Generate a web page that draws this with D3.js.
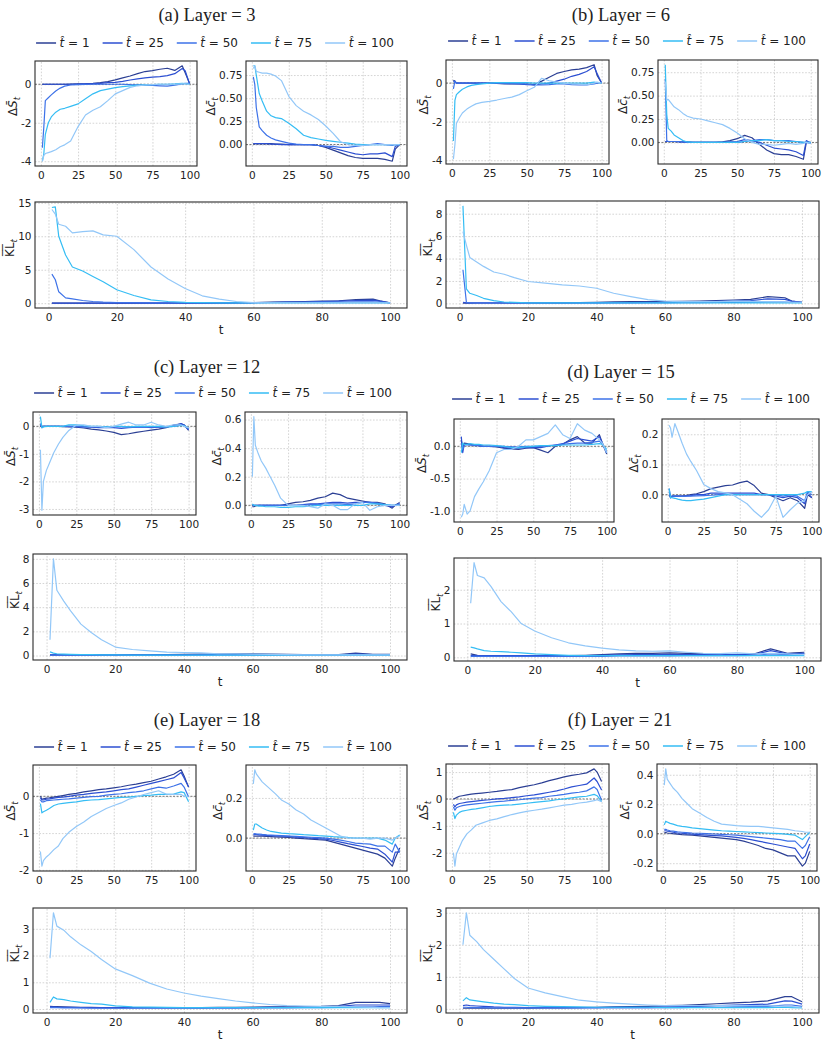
<!DOCTYPE html>
<html>
<head>
<meta charset="utf-8">
<script src="https://cdn.jsdelivr.net/npm/d3@7"></script>
<style>
  body { margin: 0; background: #fff; }
  svg text { font-family: "DejaVu Sans", sans-serif; fill: #222; }
</style>
</head>
<body>
<div id="chart"></div>
<script>
const tGrid = [1, 2, 3, 5, 7, 10, 13, 16, 20, 25, 30, 35, 40, 45, 50, 55, 60, 65, 70, 75, 80, 85, 90, 95, 97, 100];

const seriesNames = ["1", "25", "50", "75", "100"];
const seriesColors = ["#2b3f94", "#2c4fd2", "#3d72e8", "#35bdf4", "#92c7f8"];

const xTicksSmall = ["0", "25", "50", "75", "100"];
const xTicksWide = ["0", "20", "40", "60", "80", "100"];

// ---------- Layer 3 ----------
const layer3_dS = [
  [0, 0, 0, 0, 0, 0, 0, 0, 0.01, 0.02, 0.03, 0.05, 0.08, 0.14, 0.23, 0.33, 0.43, 0.55, 0.66, 0.71, 0.78, 0.83, 0.72, 0.96, 0.6, 0.03],
  [0, 0, 0, 0, 0, 0, 0, 0, 0, 0.01, 0.02, 0.03, 0.05, 0.08, 0.1, 0.15, 0.22, 0.28, 0.33, 0.37, 0.4, 0.45, 0.55, 0.82, 0.7, 0.02],
  [-3.3, -2.2, -0.85, -0.7, -0.55, -0.35, -0.2, -0.1, -0.04, -0.02, -0.01, 0, 0, 0, 0, 0, -0.02, -0.03, -0.05, -0.06, -0.08, -0.1, -0.05, 0.02, 0.05, 0.05],
  [-4.0, -3.6, -2.6, -2.0, -1.7, -1.45, -1.3, -1.25, -1.15, -1.02, -0.75, -0.5, -0.33, -0.25, -0.18, -0.12, -0.08, -0.05, -0.03, -0.02, 0, 0, 0.02, 0.05, 0.03, 0],
  [-4.0, -3.7, -3.6, -3.55, -3.5, -3.4, -3.25, -3.15, -2.95, -2.2, -1.6, -1.35, -1.17, -0.85, -0.5, -0.33, -0.16, -0.08, -0.04, -0.02, 0, 0, 0, 0.02, 0.02, 0]
];
const layer3_dc = [
  [0.01, 0.01, 0.01, 0.01, 0.01, 0.01, 0.01, 0.005, 0.005, 0, 0, 0, 0, -0.01, -0.03, -0.06, -0.09, -0.12, -0.14, -0.15, -0.15, -0.15, -0.16, -0.18, -0.05, 0],
  [0.01, 0.01, 0.01, 0.01, 0.01, 0.01, 0.005, 0.005, 0, 0, 0, 0, 0, -0.01, -0.02, -0.04, -0.06, -0.08, -0.1, -0.11, -0.1, -0.1, -0.09, -0.13, -0.02, 0],
  [0.73, 0.65, 0.4, 0.19, 0.15, 0.1, 0.07, 0.05, 0.035, 0.015, 0.005, 0, 0, -0.01, -0.02, -0.02, -0.03, -0.03, -0.02, -0.01, 0, 0.01, 0, -0.01, 0, 0],
  [0.85, 0.85, 0.75, 0.55, 0.47, 0.36, 0.31, 0.29, 0.28, 0.23, 0.17, 0.1, 0.075, 0.06, 0.045, 0.035, 0.025, 0.015, 0.005, 0, 0, 0, 0, 0, 0, 0],
  [0.82, 0.85, 0.79, 0.78, 0.77, 0.77, 0.76, 0.74, 0.69, 0.52, 0.42, 0.36, 0.32, 0.27, 0.2, 0.12, 0.03, 0, -0.01, -0.01, 0, 0, 0, 0, 0, 0]
];
const layer3_kl = [
  [0, 0, 0, 0, 0, 0, 0, 0, 0, 0, 0, 0, 0, 0, 0.02, 0.05, 0.1, 0.15, 0.2, 0.25, 0.3, 0.35, 0.55, 0.6, 0.35, 0.05],
  [0, 0, 0, 0, 0, 0, 0, 0, 0, 0, 0, 0, 0, 0, 0.01, 0.03, 0.06, 0.1, 0.15, 0.18, 0.25, 0.3, 0.4, 0.45, 0.3, 0.05],
  [4.35, 3.5, 1.7, 0.8, 0.65, 0.4, 0.25, 0.15, 0.1, 0.07, 0.05, 0.04, 0.04, 0.04, 0.05, 0.06, 0.08, 0.1, 0.12, 0.12, 0.15, 0.15, 0.2, 0.2, 0.15, 0.05],
  [14.3, 14.4, 10, 7.2, 5.4, 4.8, 4.0, 3.2, 2.0, 1.15, 0.5, 0.25, 0.12, 0.07, 0.05, 0.04, 0.04, 0.04, 0.04, 0.04, 0.04, 0.04, 0.05, 0.05, 0.05, 0.05],
  [14.0, 13.3, 11.8, 11.5, 10.5, 10.7, 10.8, 10.2, 10.0, 8.0, 5.4, 3.6, 2.2, 1.1, 0.6, 0.25, 0.08, 0.05, 0.05, 0.05, 0.05, 0.05, 0.05, 0.05, 0.05, 0.05]
];
const layer3_dSTicks = ["-4", "-2", "0"];
const layer3_dcTicks = ["0.00", "0.25", "0.50", "0.75"];
const layer3_klTicks = ["0", "5", "10", "15"];

// ---------- Layer 6 ----------
const layer6_dS = [
  [0.15, 0.1, 0, 0, 0, 0, 0, 0, 0, 0, -0.02, -0.05, -0.05, -0.05, -0.05, -0.08, 0.1, 0.3, 0.5, 0.6, 0.68, 0.72, 0.8, 0.95, 0.4, 0],
  [0.1, 0.05, 0, 0, 0, 0, 0, 0, 0, 0, 0, -0.02, -0.03, -0.05, -0.08, -0.1, -0.05, 0, 0.1, 0.2, 0.35, 0.45, 0.6, 0.85, 0.5, 0],
  [-0.3, 0.1, 0, 0, 0, 0, 0, 0, 0, 0, 0, 0, 0, -0.02, -0.05, -0.1, -0.1, -0.08, -0.05, -0.05, -0.08, -0.1, -0.1, -0.05, 0, 0.02],
  [-3.0, -0.9, -0.6, -0.45, -0.32, -0.2, -0.12, -0.08, -0.04, 0, 0.02, 0.02, 0.02, 0.02, 0.02, 0, 0, 0, 0, 0, 0, 0, 0, 0.05, 0.03, 0],
  [-3.95, -3.2, -2.1, -1.8, -1.55, -1.35, -1.2, -1.08, -1.0, -0.95, -0.88, -0.8, -0.73, -0.6, -0.4, -0.22, 0.25, 0.12, 0.05, 0, -0.05, -0.05, -0.1, 0, 0.05, 0]
];
const layer6_dc = [
  [0.01, 0.01, 0.01, 0.01, 0.01, 0.01, 0.005, 0.005, 0, 0, 0, 0, 0.005, 0.02, 0.04, 0.075, 0.05, -0.02, -0.08, -0.12, -0.13, -0.13, -0.15, -0.18, 0, 0],
  [0.01, 0.01, 0.01, 0.01, 0.01, 0.005, 0.005, 0, 0, 0, 0, 0, 0, 0.005, 0.01, 0.03, 0.02, 0, -0.03, -0.06, -0.07, -0.08, -0.1, -0.14, 0.02, -0.01],
  [0.68, 0.02, 0.01, 0.01, 0.01, 0.01, 0.005, 0, 0, 0, 0, 0, 0, 0, 0, 0.01, 0.02, 0.03, 0.03, 0.02, 0.02, 0.02, 0.01, 0, 0, -0.01],
  [0.83, 0.3, 0.15, 0.12, 0.08, 0.05, 0.02, 0.005, 0, 0, 0, 0, 0, 0, 0, 0.01, 0.02, 0.02, 0.03, 0.02, 0.02, 0.01, 0.01, 0, 0, 0],
  [0.65, 0.45, 0.46, 0.42, 0.38, 0.35, 0.31, 0.28, 0.26, 0.25, 0.23, 0.21, 0.19, 0.15, 0.1, 0.04, 0, -0.02, -0.02, -0.03, -0.02, -0.01, -0.02, -0.01, 0, -0.01]
];
const layer6_kl = [
  [0.02, 0.02, 0.02, 0.03, 0.03, 0.03, 0.03, 0.03, 0.03, 0.03, 0.05, 0.07, 0.1, 0.13, 0.15, 0.15, 0.15, 0.18, 0.2, 0.25, 0.3, 0.35, 0.6, 0.5, 0.2, 0.1],
  [0.1, 0.05, 0.03, 0.03, 0.03, 0.03, 0.03, 0.03, 0.03, 0.03, 0.03, 0.04, 0.05, 0.06, 0.07, 0.08, 0.1, 0.12, 0.15, 0.17, 0.2, 0.25, 0.4, 0.35, 0.2, 0.1],
  [3.0, 0.1, 0.05, 0.05, 0.05, 0.05, 0.05, 0.05, 0.05, 0.05, 0.05, 0.05, 0.05, 0.05, 0.05, 0.05, 0.05, 0.06, 0.07, 0.08, 0.08, 0.1, 0.12, 0.12, 0.1, 0.1],
  [8.7, 1.3, 0.9, 0.7, 0.45, 0.25, 0.12, 0.08, 0.05, 0.04, 0.04, 0.04, 0.04, 0.04, 0.04, 0.04, 0.04, 0.04, 0.04, 0.04, 0.04, 0.04, 0.05, 0.05, 0.05, 0.05],
  [6.4, 5.2, 4.1, 3.7, 3.3, 2.8, 2.6, 2.3, 1.95, 1.8, 1.65, 1.55, 1.35, 0.9, 0.6, 0.33, 0.2, 0.15, 0.15, 0.15, 0.2, 0.18, 0.15, 0.12, 0.1, 0.1]
];
const layer6_dSTicks = ["-4", "-2", "0"];
const layer6_dcTicks = ["0.00", "0.25", "0.50", "0.75"];
const layer6_klTicks = ["0", "2", "4", "6", "8"];

// ---------- Layer 12 ----------
const layer12_dS = [
  [0, 0, 0, 0, 0, 0, 0, -0.01, -0.02, -0.03, -0.06, -0.1, -0.13, -0.17, -0.22, -0.3, -0.27, -0.22, -0.18, -0.14, -0.1, -0.05, 0.05, 0.08, 0.05, -0.15],
  [0.05, 0, 0, 0, 0, 0, 0, 0, 0, -0.01, -0.02, -0.03, -0.05, -0.05, -0.05, -0.08, -0.05, -0.03, -0.02, -0.05, -0.03, -0.02, 0.02, 0.1, 0.05, -0.12],
  [0.1, -0.05, 0, 0, 0, 0, 0, 0, 0, 0, -0.02, -0.02, -0.02, -0.02, -0.02, -0.02, -0.03, -0.02, -0.03, -0.02, -0.03, -0.02, 0, 0.05, 0.03, -0.1],
  [0.35, -0.05, -0.02, 0, 0, 0, 0, 0, 0.05, 0.05, 0.02, 0, 0, -0.02, 0, 0, -0.02, 0, 0, 0, 0, -0.02, 0, 0.03, 0.02, -0.05],
  [-0.85, -3.05, -2.0, -1.6, -1.34, -0.95, -0.65, -0.4, -0.15, 0.05, 0.05, 0, 0, -0.05, 0, 0.08, 0.15, 0.05, 0.05, 0.15, 0.05, 0, 0.05, 0.05, 0, -0.05]
];
const layer12_dc = [
  [-0.01, -0.01, -0.005, 0, 0, 0, 0, 0, 0, 0.01, 0.02, 0.025, 0.035, 0.05, 0.06, 0.085, 0.075, 0.05, 0.04, 0.03, 0.02, 0.02, 0.01, -0.02, 0, 0.02],
  [-0.005, 0, 0, 0, 0, 0, 0, 0, 0, 0, 0, 0.005, 0.01, 0.01, 0.015, 0.02, 0.02, 0.015, 0.02, 0.02, 0.02, 0.01, 0, -0.01, 0, 0.01],
  [0.005, 0, 0, 0, 0, 0, 0, 0, 0, 0, 0, 0, 0.005, 0.005, 0.01, 0.01, 0.01, 0.005, 0.01, 0.02, 0.02, 0.015, 0.005, 0, 0, 0.01],
  [0.01, 0, 0, -0.005, -0.005, -0.01, -0.01, -0.01, -0.015, -0.015, -0.01, -0.01, -0.005, 0, 0, 0, 0, 0, 0, 0, 0.01, 0.01, 0.005, 0, 0, 0],
  [0.2, 0.62, 0.42, 0.36, 0.31, 0.26, 0.2, 0.14, 0.05, 0, 0, 0, -0.01, -0.02, 0.01, 0, -0.03, -0.03, 0.01, 0.02, -0.035, -0.01, 0, 0, 0, 0]
];
const layer12_kl = [
  [0.05, 0.05, 0.05, 0.05, 0.05, 0.05, 0.05, 0.05, 0.05, 0.05, 0.06, 0.08, 0.1, 0.12, 0.12, 0.15, 0.15, 0.12, 0.1, 0.08, 0.08, 0.08, 0.2, 0.1, 0.1, 0.1],
  [0.05, 0.05, 0.05, 0.05, 0.05, 0.05, 0.05, 0.05, 0.05, 0.05, 0.05, 0.05, 0.06, 0.07, 0.08, 0.08, 0.08, 0.08, 0.07, 0.06, 0.06, 0.06, 0.12, 0.08, 0.08, 0.08],
  [0.03, 0.03, 0.03, 0.03, 0.03, 0.03, 0.03, 0.03, 0.03, 0.03, 0.03, 0.03, 0.04, 0.04, 0.05, 0.05, 0.05, 0.05, 0.05, 0.05, 0.05, 0.05, 0.08, 0.06, 0.06, 0.06],
  [0.3, 0.2, 0.15, 0.12, 0.1, 0.08, 0.07, 0.06, 0.05, 0.04, 0.03, 0.03, 0.03, 0.03, 0.03, 0.03, 0.03, 0.03, 0.03, 0.03, 0.03, 0.03, 0.03, 0.03, 0.03, 0.03],
  [1.3, 8.0, 5.4, 4.5, 3.7, 2.6, 1.9, 1.3, 0.7, 0.5, 0.38, 0.28, 0.25, 0.22, 0.15, 0.15, 0.12, 0.1, 0.08, 0.06, 0.05, 0.05, 0.05, 0.05, 0.05, 0.05]
];
const layer12_dSTicks = ["-3", "-2", "-1", "0"];
const layer12_dcTicks = ["0.0", "0.2", "0.4", "0.6"];
const layer12_klTicks = ["0", "2", "4", "6", "8"];

// ---------- Layer 15 ----------
const layer15_dS = [
  [0.1, -0.05, 0.05, 0.04, 0.03, 0.02, 0.01, 0, 0, -0.01, -0.03, -0.04, -0.05, -0.03, -0.02, -0.06, -0.1, 0, 0.03, 0.1, 0.15, 0.05, 0.05, 0.18, 0.05, -0.12],
  [0.15, -0.1, 0.03, 0.03, 0.02, 0.02, 0.01, 0, 0, 0, -0.02, -0.03, -0.03, -0.02, -0.02, -0.02, 0, 0.02, 0.04, 0.08, 0.12, 0.1, 0.08, 0.15, 0.05, -0.1],
  [0.05, -0.05, 0.02, 0.02, 0.02, 0.01, 0.01, 0, 0, 0, 0, -0.01, -0.01, 0, 0, 0, 0.01, 0.02, 0.03, 0.04, 0.05, 0.05, 0.06, 0.08, 0.04, -0.1],
  [-0.1, 0.05, 0.03, 0.03, 0.04, 0.03, 0.03, 0.02, 0.02, 0.01, 0, -0.02, -0.02, -0.01, 0, 0.01, 0.01, 0.01, 0.02, 0.02, 0.02, 0.02, 0.03, 0.04, 0.03, -0.05],
  [-1.1, -1.05, -0.9, -1.05, -1.0, -0.78, -0.66, -0.55, -0.38, -0.1, -0.05, -0.05, 0, 0.1, 0.1, 0.15, 0.2, 0.33, 0.18, 0.12, 0.35, 0.25, 0.2, 0.1, 0.05, -0.1]
];
const layer15_dc = [
  [0, -0.01, -0.005, -0.005, -0.005, -0.005, -0.003, 0, 0.003, 0.01, 0.02, 0.025, 0.03, 0.032, 0.04, 0.045, 0.03, 0.005, 0, -0.01, -0.02, -0.01, -0.02, -0.045, 0, -0.01],
  [0.02, -0.01, -0.005, -0.005, -0.005, -0.005, -0.004, -0.003, 0, 0, 0.005, 0.005, 0.005, 0.005, 0.005, 0.005, 0.005, 0, 0, -0.005, -0.01, -0.005, -0.01, -0.03, 0.005, -0.01],
  [0.01, -0.01, -0.005, -0.005, -0.005, -0.006, -0.005, -0.005, -0.004, -0.003, -0.002, 0, 0, 0, 0, 0, 0, 0, 0, 0, -0.005, 0, -0.005, -0.02, 0.01, 0],
  [0.02, -0.01, -0.01, -0.012, -0.015, -0.018, -0.02, -0.02, -0.017, -0.015, -0.01, -0.005, 0, 0, 0, 0, 0, 0, 0, 0, 0, 0, 0, 0.005, 0.01, 0.01],
  [0.23, 0.22, 0.19, 0.235, 0.21, 0.17, 0.135, 0.11, 0.08, 0.034, 0.02, 0.01, 0.006, 0, -0.015, -0.03, -0.055, -0.075, -0.05, -0.005, -0.075, -0.05, -0.028, -0.02, 0, 0.01]
];
const layer15_kl = [
  [0.1, 0.08, 0.06, 0.05, 0.05, 0.05, 0.05, 0.05, 0.05, 0.05, 0.05, 0.06, 0.08, 0.1, 0.12, 0.12, 0.13, 0.12, 0.1, 0.08, 0.08, 0.1, 0.25, 0.12, 0.13, 0.15],
  [0.05, 0.05, 0.05, 0.05, 0.05, 0.05, 0.05, 0.05, 0.05, 0.05, 0.05, 0.05, 0.06, 0.07, 0.08, 0.08, 0.08, 0.08, 0.08, 0.08, 0.08, 0.08, 0.2, 0.1, 0.1, 0.12],
  [0.03, 0.03, 0.03, 0.03, 0.03, 0.03, 0.03, 0.03, 0.03, 0.03, 0.03, 0.03, 0.03, 0.04, 0.04, 0.04, 0.04, 0.05, 0.05, 0.05, 0.05, 0.06, 0.1, 0.08, 0.08, 0.1],
  [0.3, 0.28, 0.25, 0.2, 0.18, 0.17, 0.15, 0.13, 0.1, 0.08, 0.06, 0.05, 0.05, 0.05, 0.05, 0.05, 0.05, 0.05, 0.05, 0.05, 0.05, 0.05, 0.05, 0.05, 0.05, 0.05],
  [1.6, 2.8, 2.42, 2.35, 2.1, 1.65, 1.35, 1.0, 0.78, 0.58, 0.43, 0.34, 0.27, 0.22, 0.19, 0.18, 0.19, 0.15, 0.12, 0.11, 0.13, 0.1, 0.12, 0.1, 0.09, 0.08]
];
const layer15_dSTicks = ["-1.0", "-0.5", "0.0"];
const layer15_dcTicks = ["0.0", "0.1", "0.2"];
const layer15_klTicks = ["0", "1", "2"];

// ---------- Layer 18 ----------
const layer18_dS = [
  [0, -0.08, -0.07, -0.05, -0.04, -0.02, 0, 0.02, 0.05, 0.08, 0.12, 0.15, 0.18, 0.2, 0.23, 0.26, 0.3, 0.33, 0.37, 0.41, 0.47, 0.53, 0.6, 0.72, 0.55, 0.25],
  [-0.05, -0.1, -0.1, -0.08, -0.07, -0.05, -0.03, -0.02, 0, 0.03, 0.05, 0.08, 0.1, 0.12, 0.15, 0.18, 0.2, 0.25, 0.3, 0.35, 0.4, 0.45, 0.5, 0.65, 0.5, 0.25],
  [-0.1, -0.15, -0.15, -0.12, -0.11, -0.1, -0.09, -0.08, -0.07, -0.05, -0.03, -0.01, 0, 0.03, 0.05, 0.07, 0.1, 0.12, 0.15, 0.2, 0.25, 0.22, 0.28, 0.35, 0.25, -0.02],
  [-0.2, -0.45, -0.42, -0.38, -0.33, -0.25, -0.21, -0.19, -0.17, -0.15, -0.12, -0.1, -0.09, -0.07, -0.05, -0.03, -0.02, 0, 0.02, 0.03, 0.05, 0.05, 0.06, 0.12, 0.1, -0.15],
  [-1.5, -1.9, -1.75, -1.65, -1.58, -1.45, -1.35, -1.15, -0.98, -0.82, -0.7, -0.55, -0.44, -0.33, -0.25, -0.18, -0.08, -0.02, 0.05, 0.1, 0.15, 0.06, 0.05, 0.05, 0, 0]
];
const layer18_dc = [
  [0.01, 0.01, 0.01, 0.01, 0.01, 0.008, 0.007, 0.006, 0.005, 0.003, 0, -0.003, -0.005, -0.008, -0.01, -0.02, -0.03, -0.04, -0.05, -0.06, -0.07, -0.08, -0.1, -0.14, -0.1, -0.05],
  [0.015, 0.018, 0.018, 0.016, 0.015, 0.013, 0.012, 0.011, 0.01, 0.008, 0.005, 0.003, 0, -0.003, -0.005, -0.012, -0.02, -0.028, -0.035, -0.042, -0.05, -0.055, -0.08, -0.12, -0.07, -0.07],
  [0.02, 0.022, 0.02, 0.02, 0.018, 0.016, 0.015, 0.014, 0.012, 0.01, 0.008, 0.006, 0.004, 0.002, 0, -0.005, -0.01, -0.017, -0.025, -0.028, -0.03, -0.04, -0.04, -0.07, -0.03, -0.07],
  [0.04, 0.07, 0.07, 0.06, 0.05, 0.04, 0.033, 0.03, 0.025, 0.022, 0.02, 0.017, 0.015, 0.012, 0.01, 0.007, 0.005, 0.003, 0, 0, 0, 0, -0.01, -0.03, 0, 0.015],
  [0.27, 0.34, 0.32, 0.3, 0.28, 0.26, 0.24, 0.22, 0.19, 0.17, 0.14, 0.12, 0.09, 0.07, 0.05, 0.03, 0.01, 0, 0, 0, -0.005, 0, 0, -0.01, 0, 0.01]
];
const layer18_kl = [
  [0.1, 0.09, 0.09, 0.08, 0.07, 0.06, 0.06, 0.05, 0.05, 0.05, 0.05, 0.05, 0.05, 0.05, 0.06, 0.06, 0.07, 0.08, 0.08, 0.09, 0.1, 0.13, 0.25, 0.25, 0.25, 0.2],
  [0.08, 0.08, 0.07, 0.06, 0.06, 0.05, 0.05, 0.05, 0.05, 0.05, 0.05, 0.05, 0.05, 0.05, 0.05, 0.05, 0.05, 0.06, 0.06, 0.07, 0.08, 0.1, 0.15, 0.15, 0.15, 0.15],
  [0.05, 0.05, 0.05, 0.04, 0.04, 0.04, 0.03, 0.03, 0.03, 0.03, 0.03, 0.03, 0.03, 0.03, 0.03, 0.03, 0.04, 0.04, 0.04, 0.05, 0.05, 0.06, 0.08, 0.08, 0.09, 0.1],
  [0.25, 0.45, 0.38, 0.35, 0.3, 0.25, 0.2, 0.18, 0.12, 0.08, 0.07, 0.06, 0.05, 0.05, 0.05, 0.05, 0.05, 0.05, 0.05, 0.05, 0.05, 0.05, 0.05, 0.05, 0.05, 0.05],
  [1.9, 3.6, 3.1, 2.95, 2.7, 2.4, 2.15, 1.85, 1.5, 1.25, 0.97, 0.75, 0.6, 0.48, 0.39, 0.3, 0.23, 0.17, 0.13, 0.11, 0.1, 0.1, 0.08, 0.06, 0.05, 0.05]
];
const layer18_dSTicks = ["-2", "-1", "0"];
const layer18_dcTicks = ["0.0", "0.2"];
const layer18_klTicks = ["0", "1", "2", "3"];

// ---------- Layer 21 ----------
const layer21_dS = [
  [0, 0.02, 0.05, 0.1, 0.12, 0.15, 0.18, 0.2, 0.22, 0.25, 0.28, 0.32, 0.35, 0.42, 0.48, 0.53, 0.6, 0.68, 0.75, 0.82, 0.88, 0.92, 0.97, 1.12, 1.0, 0.65],
  [-0.2, -0.3, -0.22, -0.17, -0.15, -0.12, -0.1, -0.08, -0.05, -0.03, 0, 0.02, 0.05, 0.08, 0.12, 0.15, 0.2, 0.25, 0.3, 0.37, 0.45, 0.5, 0.55, 0.78, 0.65, 0.33],
  [-0.3, -0.42, -0.33, -0.28, -0.25, -0.22, -0.2, -0.18, -0.16, -0.13, -0.1, -0.08, -0.05, -0.03, 0, 0.03, 0.05, 0.1, 0.13, 0.17, 0.22, 0.25, 0.3, 0.45, 0.35, -0.05],
  [-0.5, -0.73, -0.6, -0.5, -0.45, -0.42, -0.39, -0.37, -0.33, -0.28, -0.25, -0.23, -0.22, -0.19, -0.16, -0.13, -0.1, -0.07, -0.03, 0, 0.04, 0.08, 0.1, 0.17, 0.12, -0.1],
  [-2.0, -2.5, -2.05, -1.8, -1.55, -1.3, -1.15, -0.98, -0.9, -0.8, -0.74, -0.66, -0.58, -0.52, -0.46, -0.42, -0.38, -0.33, -0.28, -0.23, -0.2, -0.15, -0.12, -0.06, -0.03, -0.1]
];
const layer21_dc = [
  [0.01, 0.008, 0.005, 0.003, 0, -0.003, -0.006, -0.008, -0.01, -0.015, -0.02, -0.025, -0.03, -0.035, -0.04, -0.05, -0.065, -0.08, -0.1, -0.11, -0.13, -0.15, -0.15, -0.22, -0.2, -0.12],
  [0.02, 0.02, 0.018, 0.015, 0.01, 0.005, 0.003, 0, -0.003, -0.006, -0.01, -0.013, -0.015, -0.02, -0.025, -0.032, -0.04, -0.05, -0.06, -0.07, -0.08, -0.09, -0.1, -0.17, -0.15, -0.07],
  [0.03, 0.03, 0.025, 0.02, 0.017, 0.012, 0.01, 0.008, 0.005, 0.003, 0, -0.002, -0.005, -0.007, -0.01, -0.015, -0.02, -0.025, -0.03, -0.035, -0.04, -0.05, -0.05, -0.1, -0.08, -0.02],
  [0.06, 0.085, 0.08, 0.07, 0.065, 0.055, 0.05, 0.047, 0.04, 0.035, 0.03, 0.025, 0.02, 0.018, 0.015, 0.012, 0.01, 0.007, 0.005, 0.002, 0, -0.005, -0.01, -0.04, -0.02, 0.01],
  [0.33, 0.44, 0.37, 0.34, 0.31, 0.28, 0.24, 0.21, 0.17, 0.14, 0.11, 0.085, 0.065, 0.06, 0.055, 0.052, 0.05, 0.05, 0.045, 0.04, 0.035, 0.03, 0.02, 0.015, 0.01, 0.01]
];
const layer21_kl = [
  [0.02, 0.02, 0.02, 0.02, 0.02, 0.02, 0.02, 0.02, 0.02, 0.03, 0.03, 0.04, 0.05, 0.06, 0.07, 0.08, 0.1, 0.11, 0.13, 0.16, 0.19, 0.21, 0.25, 0.38, 0.38, 0.22],
  [0.1, 0.12, 0.1, 0.09, 0.08, 0.06, 0.05, 0.05, 0.04, 0.04, 0.04, 0.04, 0.04, 0.05, 0.05, 0.05, 0.06, 0.07, 0.08, 0.1, 0.12, 0.13, 0.15, 0.25, 0.24, 0.15],
  [0.05, 0.05, 0.04, 0.04, 0.04, 0.03, 0.03, 0.03, 0.03, 0.03, 0.03, 0.03, 0.03, 0.03, 0.03, 0.03, 0.04, 0.04, 0.05, 0.05, 0.06, 0.07, 0.08, 0.12, 0.12, 0.08],
  [0.25, 0.35, 0.28, 0.25, 0.22, 0.18, 0.15, 0.13, 0.1, 0.08, 0.07, 0.06, 0.05, 0.05, 0.05, 0.05, 0.04, 0.04, 0.04, 0.04, 0.04, 0.04, 0.04, 0.05, 0.04, 0.03],
  [2.0, 3.0, 2.3, 2.1, 1.85, 1.55, 1.25, 0.95, 0.65, 0.5, 0.38, 0.27, 0.22, 0.18, 0.15, 0.12, 0.1, 0.1, 0.1, 0.1, 0.1, 0.1, 0.1, 0.08, 0.07, 0.05]
];
const layer21_dSTicks = ["-2", "-1", "0", "1"];
const layer21_dcTicks = ["-0.2", "0.0", "0.2", "0.4"];
const layer21_klTicks = ["0", "1", "2", "3"];

// ---------- layout (pixel boxes: [left, right, top, bottom]) ----------
const panels = [
  { title: "(a) Layer = 3", titleX: 207, titleY: 15, legendX: 215, legendY: 43,
    charts: [
      { kind: "dS", data: layer3_dS, ticks: layer3_dSTicks, box: [35, 197, 61, 166] },
      { kind: "dc", data: layer3_dc, ticks: layer3_dcTicks, box: [246, 407, 61, 166] },
      { kind: "kl", data: layer3_kl, ticks: layer3_klTicks, box: [35, 407, 202, 308] }
    ] },
  { title: "(b) Layer = 6", titleX: 621, titleY: 15, legendX: 627, legendY: 41,
    charts: [
      { kind: "dS", data: layer6_dS, ticks: layer6_dSTicks, box: [446, 609, 60, 164] },
      { kind: "dc", data: layer6_dc, ticks: layer6_dcTicks, box: [658, 818, 60, 164] },
      { kind: "kl", data: layer6_kl, ticks: layer6_klTicks, box: [446, 819, 201, 308] }
    ] },
  { title: "(c) Layer = 12", titleX: 207, titleY: 367, legendX: 213, legendY: 393,
    charts: [
      { kind: "dS", data: layer12_dS, ticks: layer12_dSTicks, box: [33, 196, 412, 515] },
      { kind: "dc", data: layer12_dc, ticks: layer12_dcTicks, box: [245, 407, 412, 515] },
      { kind: "kl", data: layer12_kl, ticks: layer12_klTicks, box: [33, 407, 554, 660] }
    ] },
  { title: "(d) Layer = 15", titleX: 621, titleY: 372, legendX: 631, legendY: 399,
    charts: [
      { kind: "dS", data: layer15_dS, ticks: layer15_dSTicks, box: [454, 614, 419, 522] },
      { kind: "dc", data: layer15_dc, ticks: layer15_dcTicks, box: [662, 819, 419, 522] },
      { kind: "kl", data: layer15_kl, ticks: layer15_klTicks, box: [454, 821, 558, 661] }
    ] },
  { title: "(e) Layer = 18", titleX: 207, titleY: 720, legendX: 213, legendY: 747,
    charts: [
      { kind: "dS", data: layer18_dS, ticks: layer18_dSTicks, box: [33, 196, 765, 871] },
      { kind: "dc", data: layer18_dc, ticks: layer18_dcTicks, box: [246, 407, 765, 871] },
      { kind: "kl", data: layer18_kl, ticks: layer18_klTicks, box: [33, 407, 908, 1013] }
    ] },
  { title: "(f) Layer = 21", titleX: 620, titleY: 720, legendX: 627, legendY: 746,
    charts: [
      { kind: "dS", data: layer21_dS, ticks: layer21_dSTicks, box: [446, 609, 764, 871] },
      { kind: "dc", data: layer21_dc, ticks: layer21_dcTicks, box: [657, 817, 764, 871] },
      { kind: "kl", data: layer21_kl, ticks: layer21_klTicks, box: [446, 819, 908, 1013] }
    ] }
];

const svg = d3.select("#chart").append("svg")
  .attr("width", 828)
  .attr("height", 1044);

function drawLabel(g, kind, x, y) {
  const t = g.append("text")
    .attr("transform", `translate(${x},${y}) rotate(-90)`)
    .attr("text-anchor", "middle")
    .attr("dy", "0.35em")
    .style("font-size", "12px");
  if (kind === "kl") {
    t.append("tspan").text("K\u0305L\u0305");
  } else {
    t.append("tspan").text("\u0394");
    t.append("tspan").style("font-style", "italic").text(kind === "dS" ? "S\u0304" : "c\u0304");
  }
  t.append("tspan").attr("dy", 3).style("font-size", "8.5px").style("font-style", "italic").text("t");
}

function drawChart(g, c) {
  const [x0, x1, y0, y1] = c.box;
  const wide = c.kind === "kl";
  const xt = (wide ? xTicksWide : xTicksSmall).map(Number);
  const yt = c.ticks.map(Number);

  const x = d3.scaleLinear().domain([1 - 4.95, 100 + 4.95]).range([x0, x1]);
  const all = c.data.flat();
  const lo = d3.min(all), hi = d3.max(all);
  const pad = (hi - lo) * 0.05;
  const y = d3.scaleLinear().domain([lo - pad, hi + pad]).range([y1, y0]);

  // x grid + labels
  const gx = g.append("g")
    .attr("transform", `translate(0,${y1})`)
    .call(d3.axisBottom(x).tickValues(xt).tickSizeInner(-(y1 - y0)).tickSizeOuter(0).tickPadding(5.5).tickFormat(d3.format("d")));
  // y grid + labels
  const gy = g.append("g")
    .attr("transform", `translate(${x0},0)`)
    .call(d3.axisLeft(y).tickValues(yt).tickSizeInner(-(x1 - x0)).tickSizeOuter(0).tickPadding(3.5)
      .tickFormat((d, i) => c.ticks[i]));
  [gx, gy].forEach(a => {
    a.select(".domain").remove();
    a.selectAll(".tick line").attr("stroke", "#c9c9c9").attr("stroke-width", 0.8).attr("stroke-dasharray", "1.6,1.6");
    a.selectAll(".tick text").style("font-size", "10.5px").attr("fill", "#222");
  });

  // widest y tick label decides where the axis title sits
  let maxW = 0;
  gy.selectAll(".tick text").each(function () { maxW = Math.max(maxW, this.getComputedTextLength()); });

  // zero reference line on the small panels
  if (!wide) {
    g.append("line")
      .attr("x1", x0).attr("x2", x1)
      .attr("y1", y(0)).attr("y2", y(0))
      .attr("stroke", "#777").attr("stroke-width", 1).attr("stroke-dasharray", "2,1.5");
  }

  const line = d3.line()
    .x((d, i) => x(tGrid[i]))
    .y(d => y(d));

  g.append("g").selectAll("path")
    .data(c.data)
    .join("path")
    .attr("d", line)
    .attr("fill", "none")
    .attr("stroke", (d, i) => seriesColors[i])
    .attr("stroke-width", 1.2)
    .attr("stroke-linejoin", "round");

  // frame
  g.append("rect")
    .attr("x", x0).attr("y", y0)
    .attr("width", x1 - x0).attr("height", y1 - y0)
    .attr("fill", "none").attr("stroke", "#2a2a2a").attr("stroke-width", 1.1);

  drawLabel(g, c.kind, x0 - 3.5 - maxW - 8, (y0 + y1) / 2 - 7);

  if (wide) {
    g.append("text")
      .attr("x", (x0 + x1) / 2)
      .attr("y", y1 + 26)
      .attr("text-anchor", "middle")
      .style("font-size", "12px")
      .text("t");
  }
}

function drawLegend(g, cx, cy) {
  const items = g.append("g");
  let pos = 0;
  seriesNames.forEach((name, i) => {
    const it = items.append("g").attr("transform", `translate(${pos},0)`);
    it.append("line")
      .attr("x1", 0).attr("x2", 20)
      .attr("y1", cy).attr("y2", cy)
      .attr("stroke", seriesColors[i]).attr("stroke-width", 1.5);
    const t = it.append("text")
      .attr("x", 23.5).attr("y", cy).attr("dy", "0.35em")
      .style("font-size", "12px");
    t.append("tspan").style("font-style", "italic").text("t\u0302");
    t.append("tspan").text(" = " + name);
    pos += 23.5 + t.node().getComputedTextLength() + 13;
  });
  const total = pos - 13;
  items.attr("transform", `translate(${cx - total / 2},0)`);
}

panels.forEach(p => {
  const g = svg.append("g");
  g.append("text")
    .attr("x", p.titleX).attr("y", p.titleY + 6)
    .attr("text-anchor", "middle")
    .style("font-family", "'Liberation Serif', 'Times New Roman', serif")
    .style("font-size", "18.5px")
    .attr("fill", "#111")
    .text(p.title);
  drawLegend(g, p.legendX, p.legendY);
  p.charts.forEach(c => drawChart(g, c));
});
</script>
</body>
</html>
